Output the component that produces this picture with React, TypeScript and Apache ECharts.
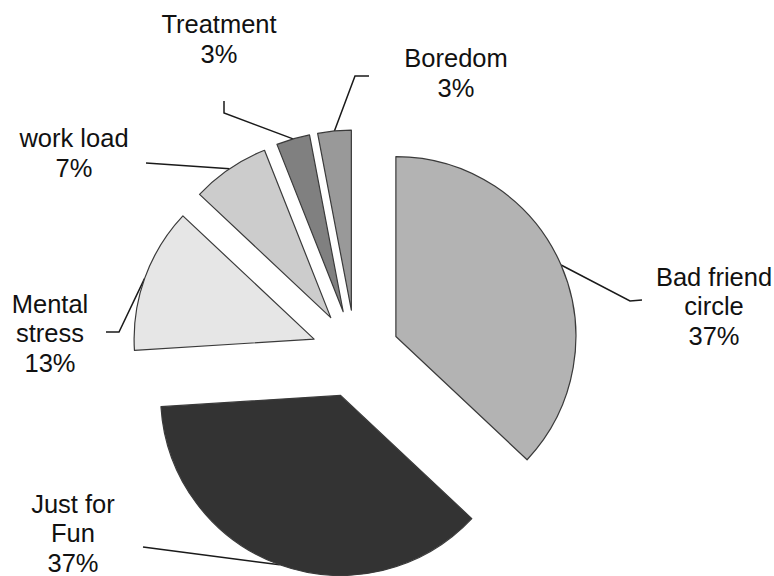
import React, { useEffect, useRef } from 'react';
import * as echarts from 'echarts';

// ---- data ----
const categories = ['Bad friend circle', 'Just for Fun', 'Mental stress', 'work load', 'Treatment', 'Boredom'];
const values = [37, 37, 13, 7, 3, 3];
const labelNames = ['Bad friend\ncircle', 'Just for\nFun', 'Mental\nstress', 'work load', 'Treatment', 'Boredom'];
const sliceColors = ['#b3b3b3', '#333333', '#e6e6e6', '#cccccc', '#808080', '#999999'];

// ---- layout ----
const PIE_CENTER = [355.5, 354];
const PIE_RADIUS = 180;
const EXPLODE = 44;
const labelPos = [[714, 306], [73, 533], [50, 333], [74, 153], [219, 39], [456, 73]];
const leaderBends = [
  [[630, 301], [642, 300]],
  [[143, 547]],
  [[119, 332], [106, 332]],
  [[146, 163]],
  [[224, 113], [224, 101]],
  [[355, 76], [369, 76]],
];
const FONT = '"Liberation Sans", Arial, sans-serif';

function buildOption() {
  const total = values.reduce((a, b) => a + b, 0);
  let cum = 0;
  const series = values.map((v, i) => {
    const mid = ((cum + v / 2) / total) * Math.PI * 2;
    cum += v;
    const dx = EXPLODE * Math.sin(mid);
    const dy = -EXPLODE * Math.cos(mid);
    return {
      type: 'pie',
      silent: true,
      center: [PIE_CENTER[0] + dx, PIE_CENTER[1] + dy],
      radius: PIE_RADIUS,
      startAngle: 90,
      clockwise: true,
      avoidLabelOverlap: false,
      emphasis: { disabled: true },
      data: categories.map((name, j) => ({
        name,
        value: values[j],
        itemStyle:
          j === i
            ? { color: sliceColors[j], borderColor: '#3a3a3a', borderWidth: 1.2 }
            : { color: 'rgba(0,0,0,0)', borderWidth: 0 },
        label: { show: j === i },
        labelLine: { show: j === i },
      })),
      label: {
        position: 'outside',
        formatter: (p: any) => `${labelNames[p.dataIndex]}\n${Math.round(p.percent)}%`,
        fontFamily: FONT,
        fontSize: 25.5,
        lineHeight: 29.5,
        color: '#111',
      },
      labelLine: {
        show: true,
        length: 10,
        length2: 10,
        lineStyle: { color: '#1a1a1a', width: 1.5 },
      },
      labelLayout: (params: any) => {
        if (params.dataIndex !== i) return {};
        const pts = params.labelLinePoints;
        const start = pts && pts[0] ? pts[0] : leaderBends[i][0];
        return {
          x: labelPos[i][0],
          y: labelPos[i][1],
          align: 'center',
          verticalAlign: 'middle',
          labelLinePoints: [start, ...leaderBends[i]],
        };
      },
    };
  });
  return {
    animation: false,
    backgroundColor: '#ffffff',
    series,
  };
}

export default function App() {
  const ref = useRef<HTMLDivElement>(null);
  useEffect(() => {
    if (!ref.current) return;
    const chart = echarts.init(ref.current, undefined, { renderer: 'svg' });
    chart.setOption(buildOption() as any);
    return () => chart.dispose();
  }, []);
  return (
    <div
      ref={ref}
      style={{ position: 'fixed', left: 0, top: 0, width: 774, height: 576, background: '#fff' }}
    />
  );
}
